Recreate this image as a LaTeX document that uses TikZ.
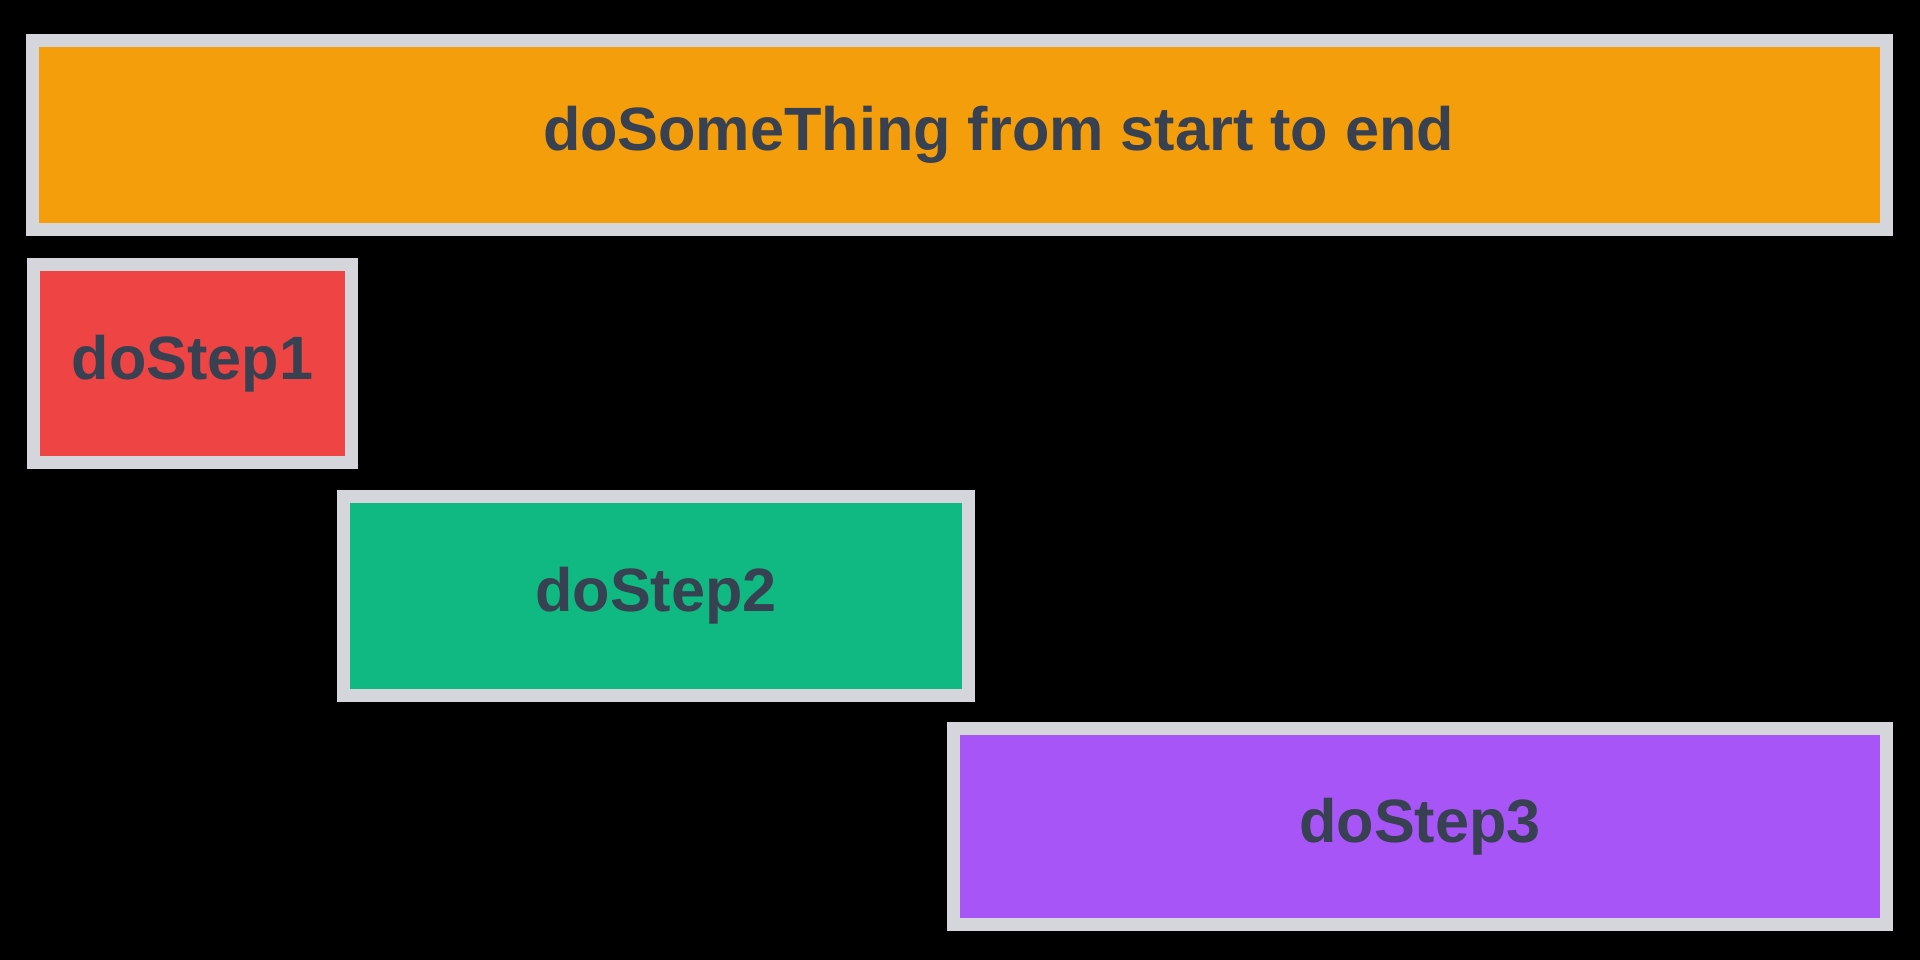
\documentclass[tikz,border=0pt]{standalone}
\usepackage{fontspec}
\setmainfont{Liberation Sans}
\definecolor{wholefill}{HTML}{F59E0B}
\definecolor{onefill}{HTML}{EF4444}
\definecolor{twofill}{HTML}{10B981}
\definecolor{threefill}{HTML}{A855F7}
\definecolor{edgegray}{HTML}{D4D6DB}
\definecolor{labelgray}{HTML}{374151}
\begin{document}
\begin{tikzpicture}[x=0.01cm, y=-0.01cm,
  stepbox/.style={draw = edgegray, line width = 0.13cm, inner sep = 0pt,
    text = labelgray, font = \fontsize{17.4pt}{20pt}\selectfont\bfseries}]
\fill[black] (0,0) rectangle (1920,960);
\useasboundingbox (0,0) rectangle (1920,960);
\node[stepbox, fill = wholefill, minimum width = 18.52cm, minimum height = 1.89cm] (whole) at (959.5,135){\hspace*{0.78cm}doSomeThing from start to end};
\node[stepbox, fill = onefill, minimum width = 3.18cm, minimum height = 1.98cm] (step1) at (192.5,363.5){doStep1};
\node[stepbox, fill = twofill, minimum width = 6.25cm, minimum height = 1.99cm] (step2) at (656,596){doStep2};
\node[stepbox, fill = threefill, minimum width = 9.33cm, minimum height = 1.96cm] (step3) at (1420,826.5){doStep3};
\end{tikzpicture}
\end{document}
